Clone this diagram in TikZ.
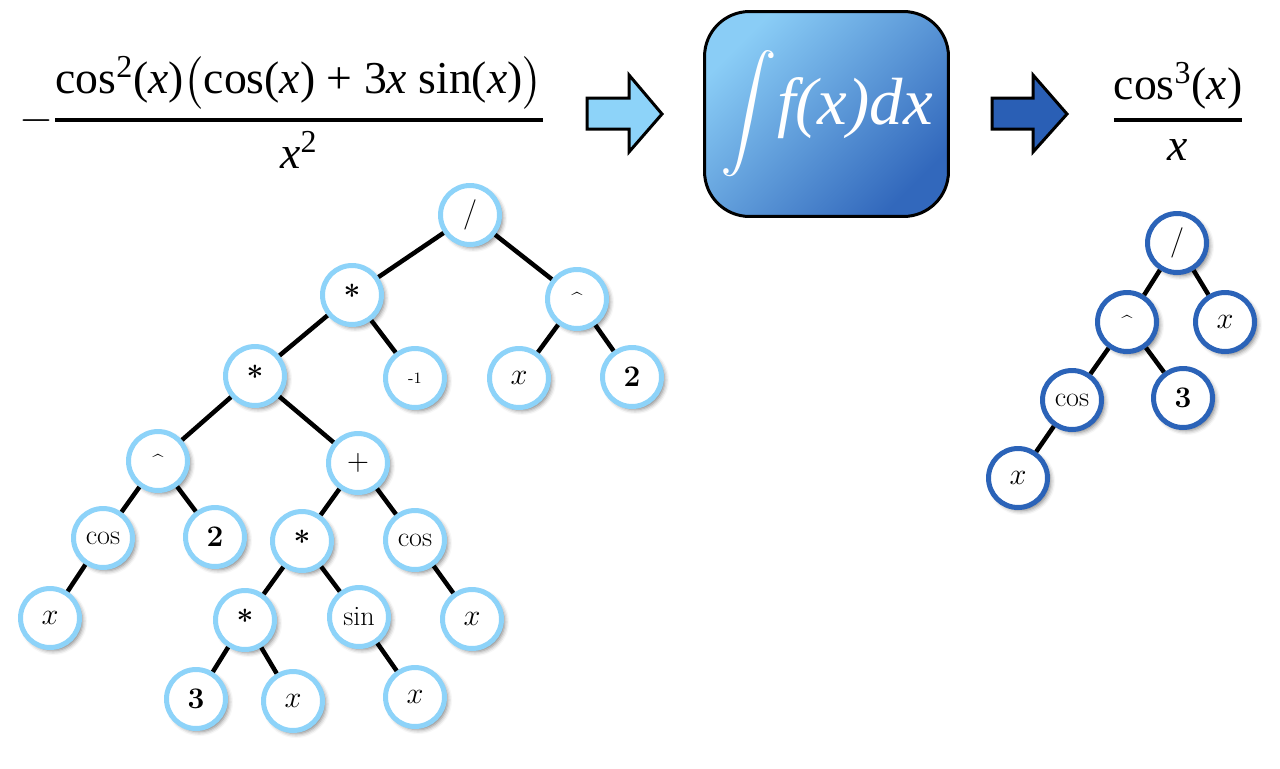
\documentclass[tikz,border=0pt]{standalone}
\usepackage{fontspec}
\usepackage{amsmath}
\usepackage{graphicx}
\usepackage{tikz}
\usetikzlibrary{shadows.blur}
\newfontfamily\tms{Liberation Serif}
\definecolor{lblue}{HTML}{8DD3F9}
\definecolor{dblue}{HTML}{2B63B8}
\definecolor{gtop}{HTML}{8ACDF6}
\definecolor{gbot}{HTML}{3268BC}
\definecolor{darr}{HTML}{2A5FB5}
\tikzset{lt/.style={circle,draw=lblue,fill=white,line width=0.1cm,minimum size=1.18cm,inner sep=0pt,font=\fontsize{16}{16}\selectfont,blur shadow={shadow xshift=1.8pt,shadow yshift=-1.8pt,shadow blur radius=2.5pt,shadow opacity=50}}}
\tikzset{dk/.style={lt,draw=dblue}}
\tikzset{br/.style={draw,line width=0.09cm}}
\tikzset{s/.style={font=\fontsize{9}{9}\selectfont}}
\tikzset{c/.style={font=\fontsize{11}{11}\selectfont}}
\tikzset{b/.style={font=\fontsize{17}{17}\selectfont\bfseries}}
\tikzset{f/.style={font=\fontsize{26}{30}\selectfont\tms,inner sep=0pt,anchor=base}}

\begin{document}
\begin{tikzpicture}[x=0.02cm,y=0.02cm]
        \useasboundingbox (0,0) rectangle (1280,-768);
        % formulas and block arrows
        \node[f] (lhs) at (282,-131) {$-\genfrac{}{}{1.8pt}{0}{\hbox{cos\textsuperscript{2}(\textit{x})$\bigl($cos(\textit{x}) + 3\textit{x} sin(\textit{x})$\bigr)$}}{\hbox{\textit{x}\textsuperscript{2}}}$};
        \node[f] (rhs) at (1178,-131) {$\genfrac{}{}{1.8pt}{0}{\hbox{cos\textsuperscript{3}(\textit{x})}}{\hbox{\textit{x}}}$};
        \filldraw[fill=lblue,line width=0.06cm,line join=miter](587,-98)--(629,-98)--(629,-75)--(662,-114)--(629,-152)--(629,-129)--(587,-129)--cycle;
        \filldraw[fill=darr,line width=0.06cm,line join=miter](992,-98)--(1033,-98)--(1033,-75)--(1067,-114)--(1033,-152)--(1033,-129)--(992,-129)--cycle;
        \node (box) at (826.5,-114) [draw,line width=0.06cm,rounded corners=0.9cm,minimum width=4.88cm,minimum height=4.1cm,shading=axis,top color=gtop,bottom color=gbot,shading angle=45,text=white,inner sep=0pt]
          {\fontsize{36}{36}\selectfont$\vcenter{\hbox{\scalebox{1.3}{$\displaystyle\int$}}}$\tms\itshape\fontsize{38}{38}\selectfont f(x)dx};
        % left tree
        \begin{scope}[every node/.style={lt}]
          \node (dv) at (470,-215) {$/$};
          \node[b] (ma) at (352,-295) {*} edge [br] (dv);
          \node[c] (pa) at (577,-299) {\^{}} edge [br] (dv);
          \node[b] (mb) at (255,-376) {*} edge [br] (ma);
          \node[s] (n1) at (415,-378) {-1} edge [br] (ma);
          \node (xa) at (519,-378) {$x$} edge [br] (pa);
          \node[b] (ta) at (632,-377) {2} edge [br] (pa);
          \node[c] (pb) at (158,-461) {\^{}} edge [br] (mb);
          \node (sm) at (358,-463) {$+$} edge [br] (mb);
          \node (ca) at (103,-538) {cos} edge [br] (pb);
          \node[b] (tb) at (215,-537) {2} edge [br] (pb);
          \node[b] (mc) at (302,-541) {*} edge [br] (sm);
          \node (cb) at (415,-540) {cos} edge [br] (sm);
          \node (xb) at (50,-618) {$x$} edge [br] (ca);
          \node[b] (md) at (245,-620) {*} edge [br] (mc);
          \node (sn) at (359,-617) {sin} edge [br] (mc);
          \node (xc) at (472,-619) {$x$} edge [br] (cb);
          \node[b] (th) at (196,-699) {3} edge [br] (md);
          \node (xd) at (293,-701) {$x$} edge [br] (md);
          \node (xe) at (415,-697) {$x$} edge [br] (sn);
        \end{scope}
        % right tree
        \begin{scope}[every node/.style={dk}]
          \node (rdv) at (1177,-243) {$/$};
          \node[c] (rpw) at (1127,-322) {\^{}} edge [br] (rdv);
          \node (rxa) at (1225,-322) {$x$} edge [br] (rdv);
          \node (rcs) at (1072,-400) {cos} edge [br] (rpw);
          \node[b] (rth) at (1183,-398) {3} edge [br] (rpw);
          \node (rxb) at (1018,-478) {$x$} edge [br] (rcs);
        \end{scope}
      \end{tikzpicture}
\end{document}
